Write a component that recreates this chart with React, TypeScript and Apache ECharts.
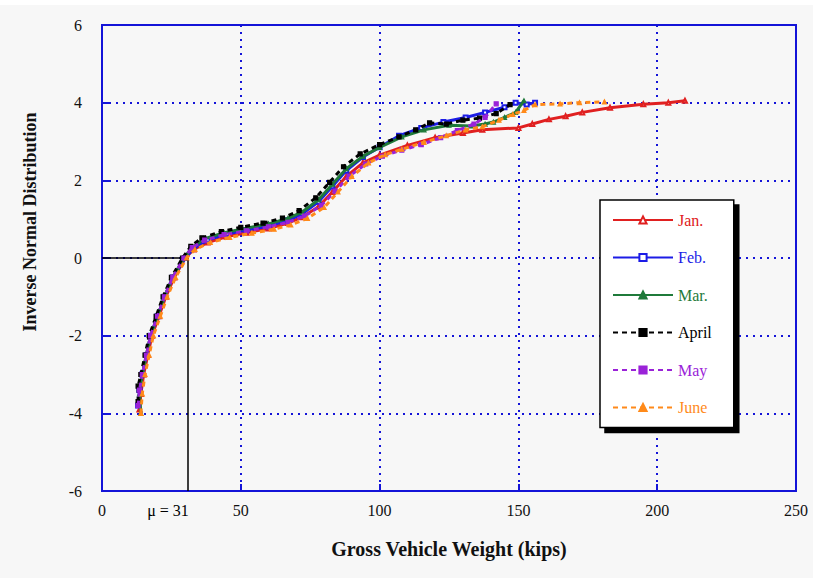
import React, { useEffect, useRef } from "react";
import * as echarts from "echarts";

const MONTHS = ["Jan.", "Feb.", "Mar.", "April", "May", "June"];
const COLORS = ["#e02020", "#1c1ce6", "#1f7a3a", "#000000", "#9a22d8", "#ff8a1a"];
const SYMBOLS = ["emptyTriangle", "emptyRect", "triangle", "rect", "rect", "triangle"];
const DASHED = [false, false, false, true, true, true];

const X_TICKS = [0, 50, 100, 150, 200, 250];
const Y_TICKS = [-6, -4, -2, 0, 2, 4, 6];
const MU = 31;
const MU_LABEL = "μ = 31";

const janData: [number, number][] = [
  [13.5, -3.9], [14, -3.5], [15, -3], [16.5, -2.5], [18, -2], [20.5, -1.5], [23, -1], [26, -0.5],
  [30, 0], [33, 0.22], [38, 0.4], [45, 0.55], [52, 0.65], [60, 0.76], [67, 0.9], [72, 1.05],
  [78, 1.32], [83, 1.7], [88, 2.1], [94, 2.45], [100, 2.65], [110, 2.9], [120, 3.1], [130, 3.22],
  [137, 3.3], [150, 3.35], [155, 3.45], [161, 3.57], [167, 3.65], [173, 3.75], [183, 3.87],
  [195, 3.96], [204, 4.0], [210, 4.05],
];
const febData: [number, number][] = [
  [13, -3.8], [13.5, -3.4], [14.5, -3], [16, -2.5], [17.5, -2], [20, -1.5], [22.5, -1], [25.5, -0.5],
  [30, 0], [33, 0.25], [38, 0.46], [45, 0.62], [52, 0.72], [60, 0.82], [67, 0.97], [72, 1.13],
  [78, 1.45], [83, 1.85], [88, 2.25], [94, 2.6], [100, 2.85], [107, 3.15], [115, 3.35], [123, 3.5],
  [131, 3.62], [138, 3.75], [145, 3.88], [149, 4.0], [153, 3.95], [156, 4.0],
];
const marData: [number, number][] = [
  [14, -4], [13.5, -3.5], [14.5, -3], [16, -2.5], [17.5, -2], [20, -1.5], [22.5, -1], [25.5, -0.5],
  [29.5, 0], [32.5, 0.27], [37, 0.5], [44, 0.65], [52, 0.77], [60, 0.88], [67, 1.02], [72, 1.18],
  [78, 1.5], [83, 1.9], [88, 2.3], [94, 2.62], [100, 2.85], [108, 3.12], [116, 3.3], [125, 3.42],
  [133, 3.4], [138, 3.45], [141, 3.5], [145, 3.62], [149, 3.75], [152, 4.05],
];
const aprData: [number, number][] = [
  [13, -3.7], [13, -3.3], [14, -3], [15.5, -2.5], [17, -2], [19.5, -1.5], [22, -1], [25, -0.5],
  [29, 0], [32, 0.3], [36, 0.52], [43, 0.68], [50, 0.79], [58, 0.9], [65, 1.03], [71, 1.22],
  [77, 1.55], [82, 1.95], [87, 2.35], [93, 2.68], [100, 2.92], [107, 3.12], [113, 3.3], [118, 3.48],
  [124, 3.45], [130, 3.55], [136, 3.6], [142, 3.72], [147, 3.95],
];
const mayData: [number, number][] = [
  [13, -3.8], [13.5, -3.4], [14.5, -3], [16, -2.5], [17.5, -2], [20, -1.5], [22.5, -1], [25.5, -0.5],
  [29.5, 0], [32.5, 0.27], [37, 0.46], [44, 0.6], [52, 0.7], [60, 0.8], [67, 0.92], [73, 1.08],
  [79, 1.35], [84, 1.72], [89, 2.1], [95, 2.42], [101, 2.62], [108, 2.78], [115, 2.92], [122, 3.1],
  [128, 3.28], [134, 3.45], [138, 3.62], [142, 3.97],
];
const junData: [number, number][] = [
  [14, -4], [14.5, -3.5], [15.5, -3], [17, -2.5], [18.5, -2], [21, -1.5], [23.5, -1], [26.5, -0.5],
  [30.5, 0], [33.5, 0.22], [39, 0.4], [46, 0.53], [54, 0.64], [62, 0.74], [68, 0.85], [74, 1.02],
  [80, 1.3], [85, 1.7], [90, 2.1], [96, 2.45], [102, 2.66], [108, 2.8], [116, 2.98], [124, 3.15],
  [131, 3.3], [137, 3.38], [143, 3.55], [148, 3.7], [152, 3.8], [156, 3.95], [165, 3.97],
  [172, 4.0], [181, 4.02],
];
const SERIES_DATA = [janData, febData, marData, aprData, mayData, junData];

const SERIF = "'Liberation Serif', 'DejaVu Serif', 'Times New Roman', serif";
const AXIS_BLUE = "#1414d8";

export default function App() {
  const ref = useRef<HTMLDivElement>(null);
  useEffect(() => {
    document.body.style.margin = "0";
    document.body.style.background = "#ffffff";
    const chart = echarts.init(ref.current!, null, { renderer: "svg" });
    const series: any[] = MONTHS.map((name, i) => ({
      name,
      type: "line",
      data: SERIES_DATA[i],
      symbol: SYMBOLS[i],
      symbolSize: 4,
      showSymbol: true,
      lineStyle: { color: COLORS[i], width: 3, type: DASHED[i] ? [5, 4] : "solid" },
      itemStyle: { color: COLORS[i], borderColor: COLORS[i], borderWidth: 1.2 },
      z: 3 + i,
    }));
    series[0].markLine = {
      silent: true,
      symbol: "none",
      label: { show: false },
      lineStyle: { color: "#000", width: 1.5, type: "solid" },
      data: [
        [{ coord: [X_TICKS[0], 0] }, { coord: [MU, 0] }],
        [{ coord: [MU, 0] }, { coord: [MU, Y_TICKS[0]] }],
      ],
    };
    series[0].markPoint = {
      silent: true,
      symbol: "circle",
      symbolSize: 0,
      data: [{ coord: [MU, Y_TICKS[0]] }],
      label: {
        show: true,
        formatter: MU_LABEL,
        position: "inside",
        offset: [-20, 19],
        color: "#000",
        fontFamily: SERIF,
        fontSize: 16,
      },
    };
    chart.setOption({
      animation: false,
      backgroundColor: "#f7f7f7",
      grid: {
        left: 102,
        top: 20,
        right: 17,
        bottom: 87,
        show: true,
        borderColor: AXIS_BLUE,
        borderWidth: 2,
        backgroundColor: "transparent",
      },
      xAxis: {
        type: "value",
        min: X_TICKS[0],
        max: X_TICKS[X_TICKS.length - 1],
        interval: 50,
        name: "Gross Vehicle Weight (kips)",
        nameLocation: "middle",
        nameGap: 48,
        nameTextStyle: { fontFamily: SERIF, fontWeight: "bold", fontSize: 20, color: "#111" },
        axisLine: { show: true, onZero: false, lineStyle: { color: AXIS_BLUE, width: 2 } },
        axisTick: { show: true, inside: true, length: 7, lineStyle: { color: AXIS_BLUE, width: 2 } },
        axisLabel: { color: "#111", fontFamily: SERIF, fontSize: 16, margin: 11 },
        splitLine: { show: true, lineStyle: { color: AXIS_BLUE, width: 2, type: [2, 5] } },
      },
      yAxis: {
        type: "value",
        min: Y_TICKS[0],
        max: Y_TICKS[Y_TICKS.length - 1],
        interval: 2,
        name: "Inverse Normal Distribution",
        nameLocation: "middle",
        nameGap: 63,
        nameRotate: 90,
        nameTextStyle: {
          fontFamily: SERIF,
          fontWeight: "bold",
          fontSize: 18,
          color: "#111",
          padding: [0, 0, 0, 72],
        },
        axisLine: { show: true, onZero: false, lineStyle: { color: AXIS_BLUE, width: 2 } },
        axisTick: { show: true, inside: true, length: 7, lineStyle: { color: AXIS_BLUE, width: 2 } },
        axisLabel: { color: "#111", fontFamily: SERIF, fontSize: 16, margin: 20 },
        splitLine: { show: true, lineStyle: { color: AXIS_BLUE, width: 2, type: [2, 5] } },
      },
      legend: {
        orient: "vertical",
        left: 600,
        top: 195,
        itemWidth: 60,
        itemHeight: 9,
        itemGap: 21.5,
        padding: [12, 22, 12, 12],
        backgroundColor: "#ffffff",
        borderColor: "#000",
        borderWidth: 1.5,
        borderRadius: 0,
        shadowColor: "#000",
        shadowBlur: 0,
        shadowOffsetX: 5,
        shadowOffsetY: 5,
        textStyle: { fontFamily: SERIF, fontSize: 16 },
        data: MONTHS.map((name, i) => ({ name, textStyle: { color: COLORS[i] } })),
      },
      series,
    });
    return () => chart.dispose();
  }, []);
  return (
    <div
      ref={ref}
      style={{ position: "fixed", left: 0, top: 5, width: 813, height: 573 }}
    />
  );
}
